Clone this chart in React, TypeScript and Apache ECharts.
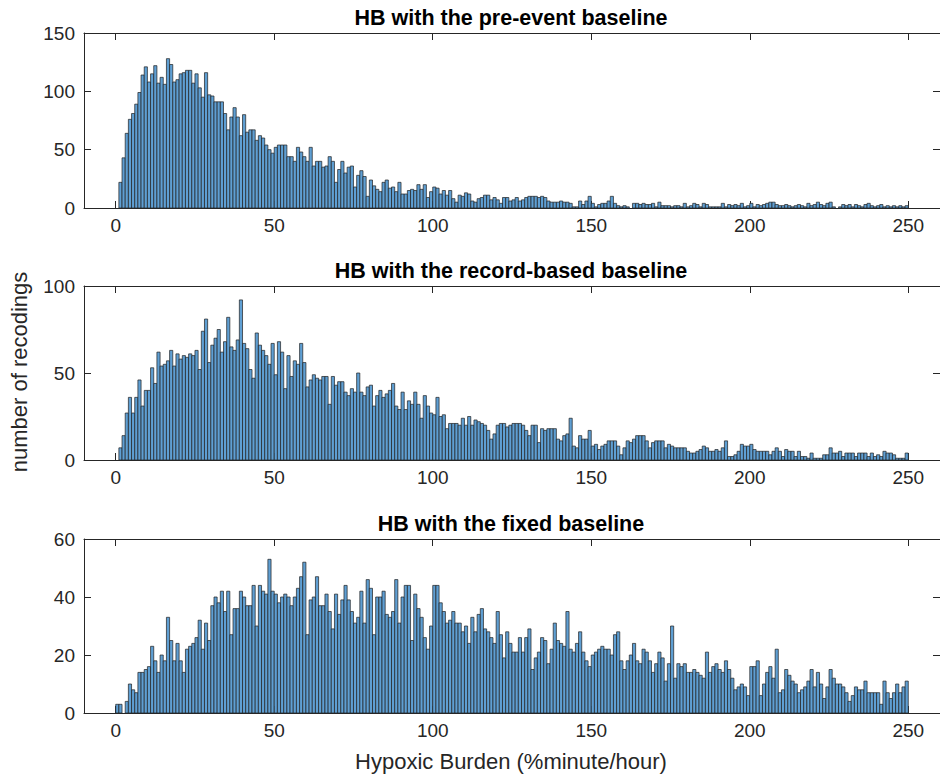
import React, { useEffect, useRef } from "react";
import * as echarts from "echarts";

const PRE = [
  0, 22, 43, 64, 76, 81, 89, 99, 114, 121,
  108, 115, 122, 107, 112, 106, 128, 123, 108, 110,
  115, 116, 118, 118, 107, 115, 103, 95, 116, 97,
  96, 91, 91, 91, 81, 67, 78, 86, 78, 62,
  80, 65, 67, 67, 58, 62, 60, 54, 50, 47,
  52, 54, 54, 54, 44, 44, 40, 52, 48, 44,
  40, 52, 36, 40, 40, 35, 36, 44, 40, 22,
  33, 40, 30, 35, 36, 18, 28, 32, 27, 10,
  24, 19, 16, 14, 22, 24, 17, 18, 14, 22,
  12, 12, 15, 16, 15, 20, 16, 20, 9, 14,
  18, 17, 12, 15, 11, 15, 8, 5, 11, 10,
  13, 12, 6, 5, 8, 9, 11, 11, 7, 9,
  7, 4, 9, 9, 6, 7, 9, 6, 7, 9,
  10, 10, 10, 9, 10, 9, 6, 5, 5, 5,
  6, 5, 5, 4, 1, 1, 6, 3, 6, 10,
  4, 1, 3, 4, 4, 6, 10, 4, 2, 1,
  2, 1, 0, 4, 4, 3, 4, 3, 3, 4,
  1, 5, 2, 2, 2, 1, 2, 2, 1, 4,
  1, 2, 4, 3, 1, 4, 3, 1, 1, 1,
  1, 4, 1, 3, 2, 3, 2, 4, 1, 2,
  4, 1, 3, 2, 3, 4, 5, 5, 3, 2,
  2, 3, 2, 1, 2, 3, 2, 1, 4, 2,
  3, 5, 3, 2, 4, 5, 1, 0, 1, 3,
  2, 3, 1, 3, 2, 1, 3, 4, 2, 1,
  2, 3, 1, 2, 1, 2, 1, 2, 1, 2,
];

const REC = [
  0, 7, 14, 27, 36, 27, 36, 46, 31, 40,
  40, 53, 44, 62, 54, 55, 57, 63, 54, 61,
  58, 60, 59, 61, 60, 63, 52, 74, 81, 56,
  66, 70, 75, 62, 68, 82, 65, 63, 69, 92,
  67, 64, 52, 47, 73, 66, 63, 60, 55, 67,
  49, 68, 62, 41, 60, 48, 57, 55, 67, 56,
  42, 46, 49, 47, 46, 48, 48, 32, 48, 43,
  45, 45, 39, 37, 41, 39, 50, 39, 37, 42,
  43, 31, 37, 40, 36, 38, 40, 44, 31, 29,
  39, 29, 34, 32, 39, 32, 24, 37, 31, 27,
  26, 36, 25, 26, 18, 21, 21, 21, 20, 24,
  20, 25, 20, 23, 22, 21, 20, 17, 12, 15,
  20, 21, 21, 19, 20, 21, 21, 21, 20, 17,
  14, 20, 20, 10, 18, 17, 18, 18, 18, 12,
  11, 14, 15, 24, 8, 7, 14, 12, 12, 17,
  8, 9, 6, 8, 9, 11, 11, 11, 8, 3,
  7, 11, 10, 12, 14, 14, 14, 11, 7, 10,
  11, 11, 11, 7, 9, 8, 7, 7, 7, 7,
  5, 4, 4, 5, 6, 8, 7, 5, 5, 6,
  5, 7, 11, 2, 2, 3, 5, 9, 8, 8,
  9, 6, 5, 5, 5, 5, 3, 5, 7, 5,
  2, 6, 5, 5, 2, 5, 2, 2, 1, 4,
  1, 1, 1, 3, 3, 7, 4, 4, 5, 2,
  4, 4, 4, 2, 4, 4, 4, 2, 4, 2,
  3, 2, 5, 4, 4, 3, 1, 1, 1, 4,
];

const FIX = [
  3, 3, 0, 4, 10, 8, 7, 14, 14, 15,
  16, 23, 18, 14, 20, 18, 33, 25, 18, 24,
  18, 14, 22, 23, 24, 26, 32, 22, 31, 25,
  37, 40, 38, 42, 35, 42, 27, 36, 36, 42,
  40, 37, 37, 44, 30, 44, 42, 41, 53, 42,
  41, 38, 40, 41, 40, 37, 40, 43, 47, 52,
  27, 39, 40, 47, 37, 37, 41, 35, 29, 41,
  34, 39, 44, 39, 35, 31, 33, 42, 31, 46,
  43, 27, 40, 40, 42, 34, 33, 35, 46, 31,
  40, 44, 44, 25, 41, 36, 33, 26, 22, 30,
  44, 44, 38, 35, 31, 32, 35, 31, 31, 28,
  30, 24, 33, 28, 34, 36, 29, 28, 26, 24,
  35, 27, 19, 28, 24, 21, 21, 26, 21, 26,
  29, 15, 19, 21, 26, 25, 17, 22, 31, 25,
  24, 23, 35, 22, 21, 24, 28, 21, 18, 16,
  20, 21, 22, 23, 22, 22, 20, 27, 28, 18,
  15, 18, 20, 24, 18, 17, 22, 21, 18, 14,
  17, 21, 19, 11, 17, 30, 12, 17, 16, 17,
  14, 14, 15, 14, 13, 12, 21, 14, 16, 17,
  15, 14, 18, 15, 12, 8, 9, 10, 9, 6,
  16, 16, 18, 6, 10, 14, 16, 12, 22, 7,
  8, 15, 13, 11, 10, 7, 8, 9, 11, 15,
  9, 14, 10, 5, 9, 15, 12, 10, 10, 9,
  7, 4, 6, 9, 8, 8, 11, 7, 7, 7,
  7, 3, 11, 7, 5, 7, 10, 7, 9, 11,
];

const TITLES = [
  "HB with the pre-event baseline",
  "HB with the record-based baseline",
  "HB with the fixed baseline",
];
const X_TICKS = [0, 50, 100, 150, 200, 250];
const Y_MAX = [150, 100, 60];
const Y_STEP = [50, 50, 20];
const X_LABEL = "Hypoxic Burden (%minute/hour)";
const Y_LABEL = "number of recodings";

const FONT = '"Liberation Sans", Arial, Helvetica, sans-serif';
const INK = "#262626";
const FILL = "#5f9fd3";
const EDGE = "#1f1f1f";

const GRID_LEFT = 84;
const GRID_WIDTH = 858;
const GRID_TOPS = [33, 286, 539];
const GRID_HEIGHTS = [175, 174, 174];

export default function App() {
  const ref = useRef<HTMLDivElement>(null);

  useEffect(() => {
    if (!ref.current) return;
    const chart = echarts.init(ref.current, null, { renderer: "svg" });
    const datasets = [PRE, REC, FIX];

    const grid = GRID_TOPS.map((t, i) => ({
      left: GRID_LEFT,
      width: GRID_WIDTH,
      top: t,
      height: GRID_HEIGHTS[i],
      containLabel: false,
    }));

    const xAxis: any[] = [];
    const yAxis: any[] = [];
    const series: any[] = [];

    datasets.forEach((data, i) => {
      const axisCommon = {
        gridIndex: i,
        type: "value",
        min: -10,
        max: 260,
        splitLine: { show: false },
        axisLine: { show: true, onZero: false, lineStyle: { color: INK, width: 1 } },
        axisTick: {
          show: true,
          inside: true,
          length: 7,
          customValues: X_TICKS,
          lineStyle: { color: INK },
        },
      };
      xAxis.push({
        ...axisCommon,
        position: "bottom",
        axisLabel: {
          customValues: X_TICKS,
          color: INK,
          fontSize: 19,
          fontFamily: FONT,
          margin: 8,
        },
      });
      xAxis.push({
        ...axisCommon,
        position: "top",
        axisLabel: { show: false },
      });
      const yCommon = {
        gridIndex: i,
        type: "value",
        min: 0,
        max: Y_MAX[i],
        interval: Y_STEP[i],
        splitLine: { show: false },
        axisLine: { show: true, onZero: false, lineStyle: { color: INK, width: 1 } },
        axisTick: { show: true, inside: true, length: 7, lineStyle: { color: INK } },
      };
      yAxis.push({
        ...yCommon,
        position: "left",
        axisLabel: { color: INK, fontSize: 19, fontFamily: FONT, margin: 9 },
      });
      yAxis.push({
        ...yCommon,
        position: "right",
        axisLabel: { show: false },
      });

      series.push({
        type: "custom",
        xAxisIndex: i * 2,
        yAxisIndex: i * 2,
        data: data.map((v, k) => [k, v]),
        encode: { x: 0, y: 1 },
        clip: true,
        renderItem: (params: any, api: any) => {
          const x0 = api.value(0);
          const v = api.value(1);
          if (!v) return null;
          const p0 = api.coord([x0, v]);
          const p1 = api.coord([x0 + 1, 0]);
          return {
            type: "rect",
            shape: {
              x: p0[0],
              y: p0[1],
              width: p1[0] - p0[0],
              height: p1[1] - p0[1],
            },
            style: { fill: FILL, stroke: EDGE, lineWidth: 0.7 },
          };
        },
      });
    });

    const cx = GRID_LEFT + GRID_WIDTH / 2 - 2;
    const titleY = [18, 271, 524];
    const graphic: any[] = TITLES.map((t, i) => ({
      type: "text",
      x: cx,
      y: titleY[i],
      style: {
        text: t,
        align: "center",
        verticalAlign: "middle",
        fill: "#000",
        font: `bold 21.5px ${FONT}`,
      },
    }));
    graphic.push({
      type: "text",
      x: cx,
      y: 761,
      style: {
        text: X_LABEL,
        align: "center",
        verticalAlign: "middle",
        fill: INK,
        font: `22px ${FONT}`,
      },
    });
    graphic.push({
      type: "text",
      x: 19,
      y: 372,
      rotation: Math.PI / 2,
      style: {
        text: Y_LABEL,
        align: "center",
        verticalAlign: "middle",
        fill: INK,
        font: `22px ${FONT}`,
      },
    });

    chart.setOption({
      animation: false,
      backgroundColor: "#ffffff",
      grid,
      xAxis,
      yAxis,
      series,
      graphic,
    });

    return () => chart.dispose();
  }, []);

  return (
    <div
      ref={ref}
      style={{ position: "fixed", left: 0, top: 0, width: 940, height: 776, background: "#fff" }}
    />
  );
}
